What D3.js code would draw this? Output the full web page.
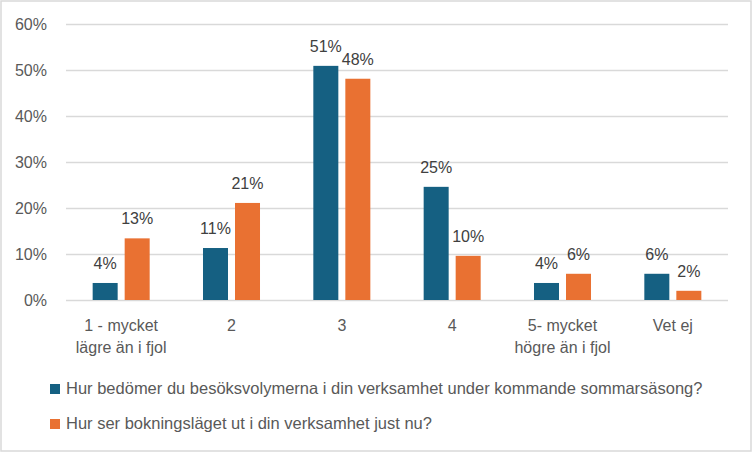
<!DOCTYPE html>
<html>
<head>
<meta charset="utf-8">
<script src="https://cdn.jsdelivr.net/npm/d3@7"></script>
<style>
  body { margin:0; background:#fff; }
  text { font-family: "Liberation Sans", Arial, sans-serif; }
</style>
</head>
<body>
<div id="canvas"></div>
<script>
// data
var categories = [["1 - mycket","lägre än i fjol"],["2"],["3"],["4"],["5- mycket","högre än i fjol"],["Vet ej"]];
var seriesNames = ["Hur bedömer du besöksvolymerna i din verksamhet under kommande sommarsäsong?",
                   "Hur ser bokningsläget ut i din verksamhet just nu?"];
var besok = [0.037, 0.113, 0.509, 0.246, 0.037, 0.057];
var bokning = [0.134, 0.211, 0.481, 0.096, 0.057, 0.020];
var yTicks = [0, 0.1, 0.2, 0.3, 0.4, 0.5, 0.6];
var colors = ["#156082", "#E97132"];

var W = 752, H = 452;
var m = {t:24, r:24, b:152, l:66};
var w = W - m.l - m.r, h = H - m.t - m.b;

var svg = d3.select('#canvas').append('svg')
    .attr('width', W).attr('height', H);

svg.append('rect')
    .attr('x', 1).attr('y', 1).attr('width', W-2).attr('height', H-2)
    .attr('fill', '#fff').attr('stroke', '#d9d9d9').attr('stroke-width', 1.5);

var plot = svg.append('g').attr('transform', 'translate(' + m.l + ',' + m.t + ')');

var idx = d3.range(categories.length);
var x0 = d3.scaleBand().domain(idx).range([0, w]).padding(0);
var x1 = d3.scaleBand().domain([0,1]).range([0, x0.bandwidth()])
    .paddingInner(0.21875).paddingOuter(0.833);
var y = d3.scaleLinear().domain([0, 0.6]).range([h, 0]);

// gridlines + y labels
var axisY = d3.axisLeft(y).tickValues(yTicks).tickSize(-w).tickPadding(19)
    .tickFormat(d3.format('.0%'));
var gy = plot.append('g').call(axisY);
gy.select('.domain').remove();
gy.selectAll('line').attr('stroke', '#d9d9d9').attr('stroke-width', 1.5);
gy.selectAll('text').attr('fill', '#595959').attr('font-size', 16)
    .attr('font-family', '"Liberation Sans", Arial, sans-serif');

// bars
var rows = idx.map(function(i){ return [besok[i], bokning[i]]; });
var groups = plot.selectAll('.grp').data(rows).enter().append('g')
    .attr('class', 'grp')
    .attr('transform', function(d, i){ return 'translate(' + x0(i) + ',0)'; });

groups.selectAll('rect').data(function(d){ return d; }).enter().append('rect')
    .attr('x', function(d, j){ return x1(j); })
    .attr('y', function(d){ return y(d); })
    .attr('width', x1.bandwidth())
    .attr('height', function(d){ return h - y(d); })
    .attr('fill', function(d, j){ return colors[j]; });

groups.selectAll('.lbl').data(function(d){ return d; }).enter().append('text')
    .attr('class', 'lbl')
    .attr('x', function(d, j){ return x1(j) + x1.bandwidth()/2; })
    .attr('y', function(d){ return y(d) - 14; })
    .attr('text-anchor', 'middle')
    .attr('font-size', 16)
    .attr('fill', '#404040')
    .text(function(d){ return Math.round(d*100) + '%'; });

// category labels
var cat = plot.selectAll('.cat').data(categories).enter().append('text')
    .attr('class', 'cat')
    .attr('text-anchor', 'middle')
    .attr('font-size', 16)
    .attr('fill', '#595959')
    .attr('transform', function(d, i){ return 'translate(' + (x0(i) + x0.bandwidth()/2) + ',' + (h + 31) + ')'; });
cat.selectAll('tspan').data(function(d){ return d; }).enter().append('tspan')
    .attr('x', 0)
    .attr('y', function(d, k){ return k * 22; })
    .text(function(d){ return d; });

// legend
var leg = svg.selectAll('.leg').data(seriesNames).enter().append('g')
    .attr('class', 'leg')
    .attr('transform', function(d, i){ return 'translate(50,' + (384 + i*35) + ')'; });
leg.append('rect').attr('width', 10).attr('height', 10)
    .attr('fill', function(d, i){ return colors[i]; });
leg.append('text').attr('x', 16).attr('y', 10)
    .attr('font-size', 16.5).attr('fill', '#595959')
    .text(function(d){ return d; });
</script>
</body>
</html>
